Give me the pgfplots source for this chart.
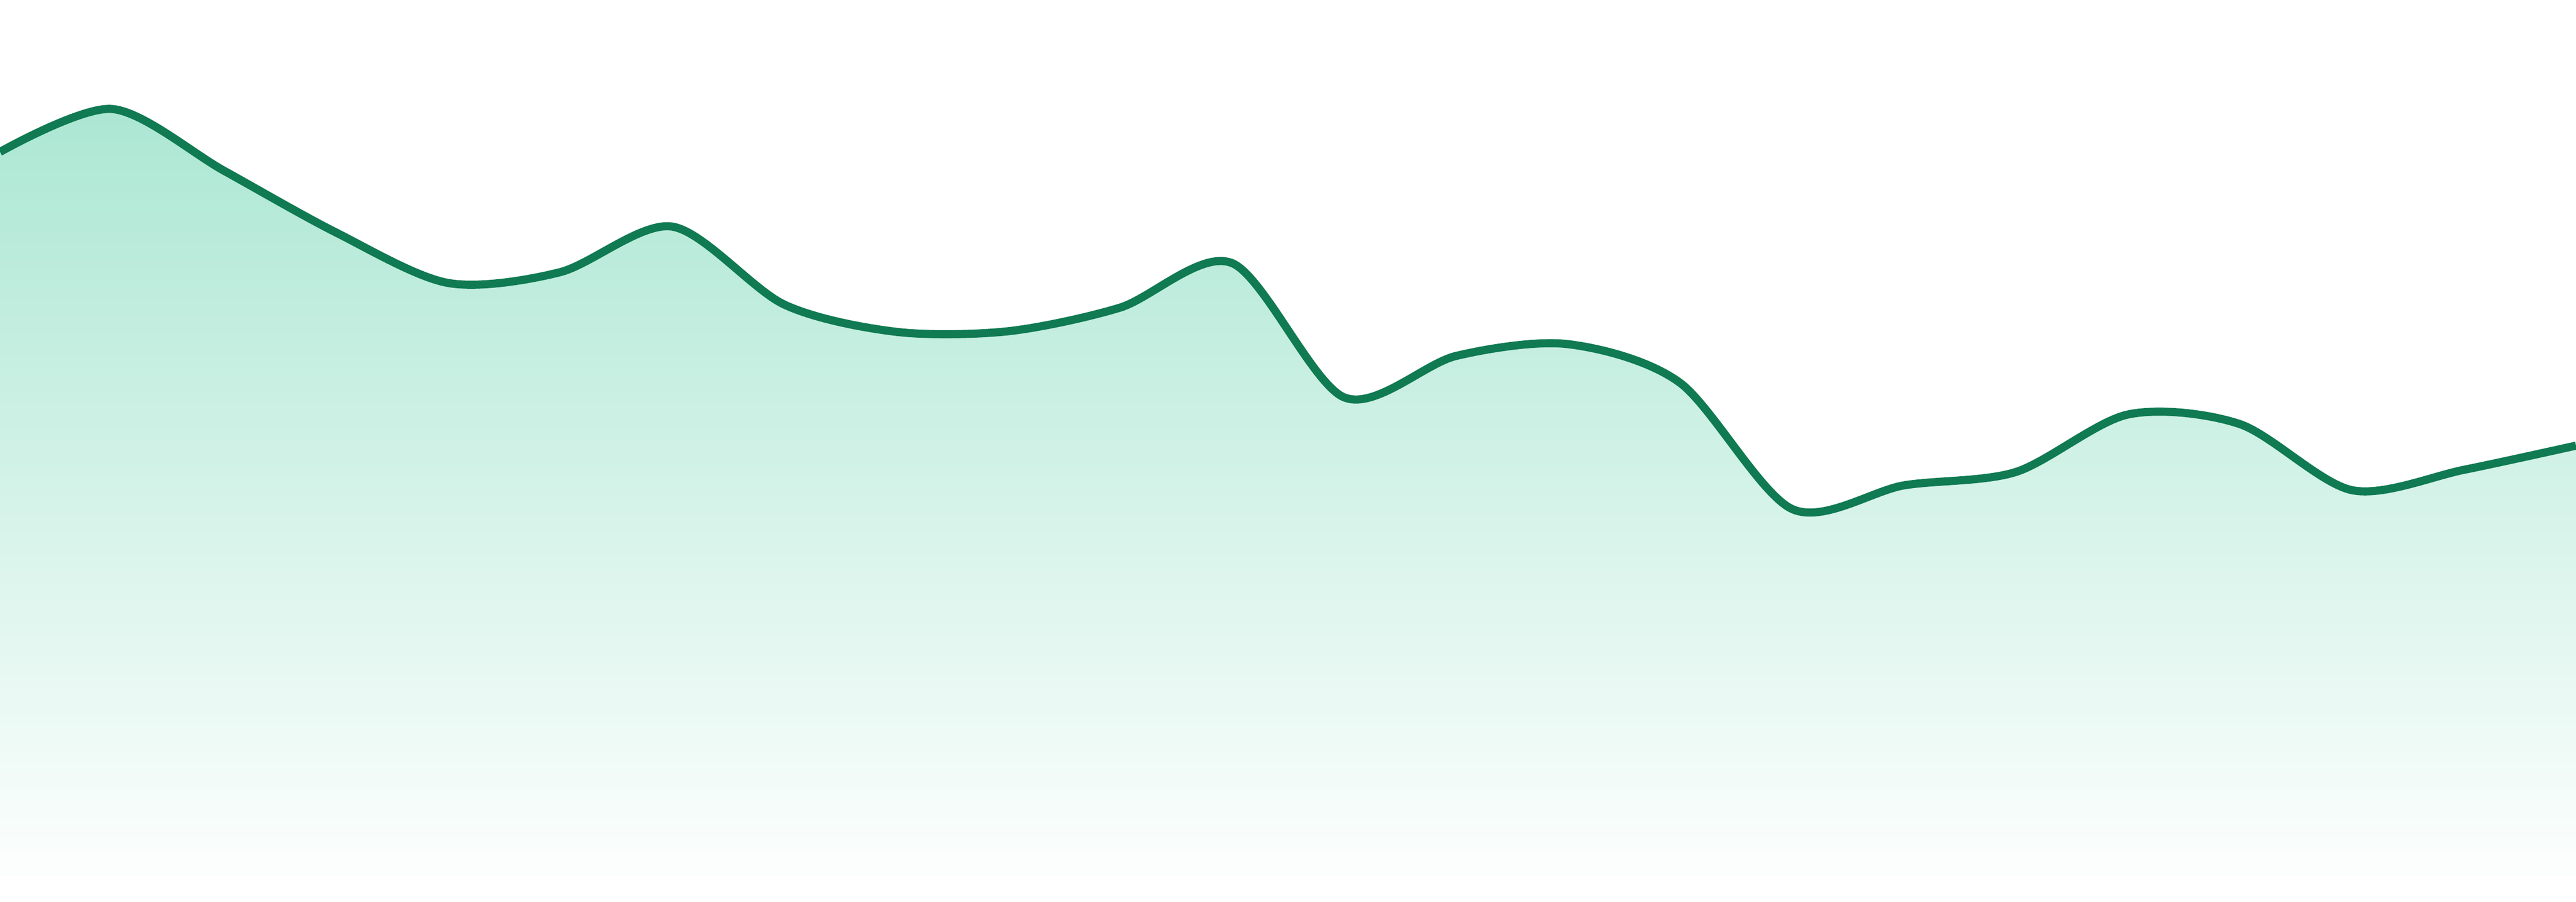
\documentclass[border=0pt]{standalone}
\usepackage{pgfplots}
\pgfplotsset{compat=1.18}
\usepackage{pgfplotstable}
\definecolor{lineg}{HTML}{107A52}
\definecolor{fillg}{HTML}{10B981}
\pgfplotstableread{
x y
0 1349
1 1429
2 1314
3 1199
4 1105
5 1125
6 1210
7 1065
8 1014
9 1015
10 1059
11 1142
12 892
13 969
14 991
15 919
16 684
17 728
18 753
19 860
20 842
21 719
22 757
23 802
}\datatable
\begin{document}
\begin{tikzpicture}
\begin{axis}[
  scale only axis,
  width=48cm, height=16.8cm,
  xmin=0, xmax=23,
  ymin=-48, ymax=1632,
  axis line style={draw=none},
  ticks=none,
  clip=true,
]
\addplot[draw=none, smooth, tension=0.5, top color=fillg!35!white, bottom color=fillg!1!white]
  table[x=x,y=y]{\datatable} \closedcycle;
\addplot[lineg, line width=4.3pt, smooth, tension=0.5]
  table[x=x,y=y]{\datatable};
\end{axis}
\end{tikzpicture}
\end{document}
